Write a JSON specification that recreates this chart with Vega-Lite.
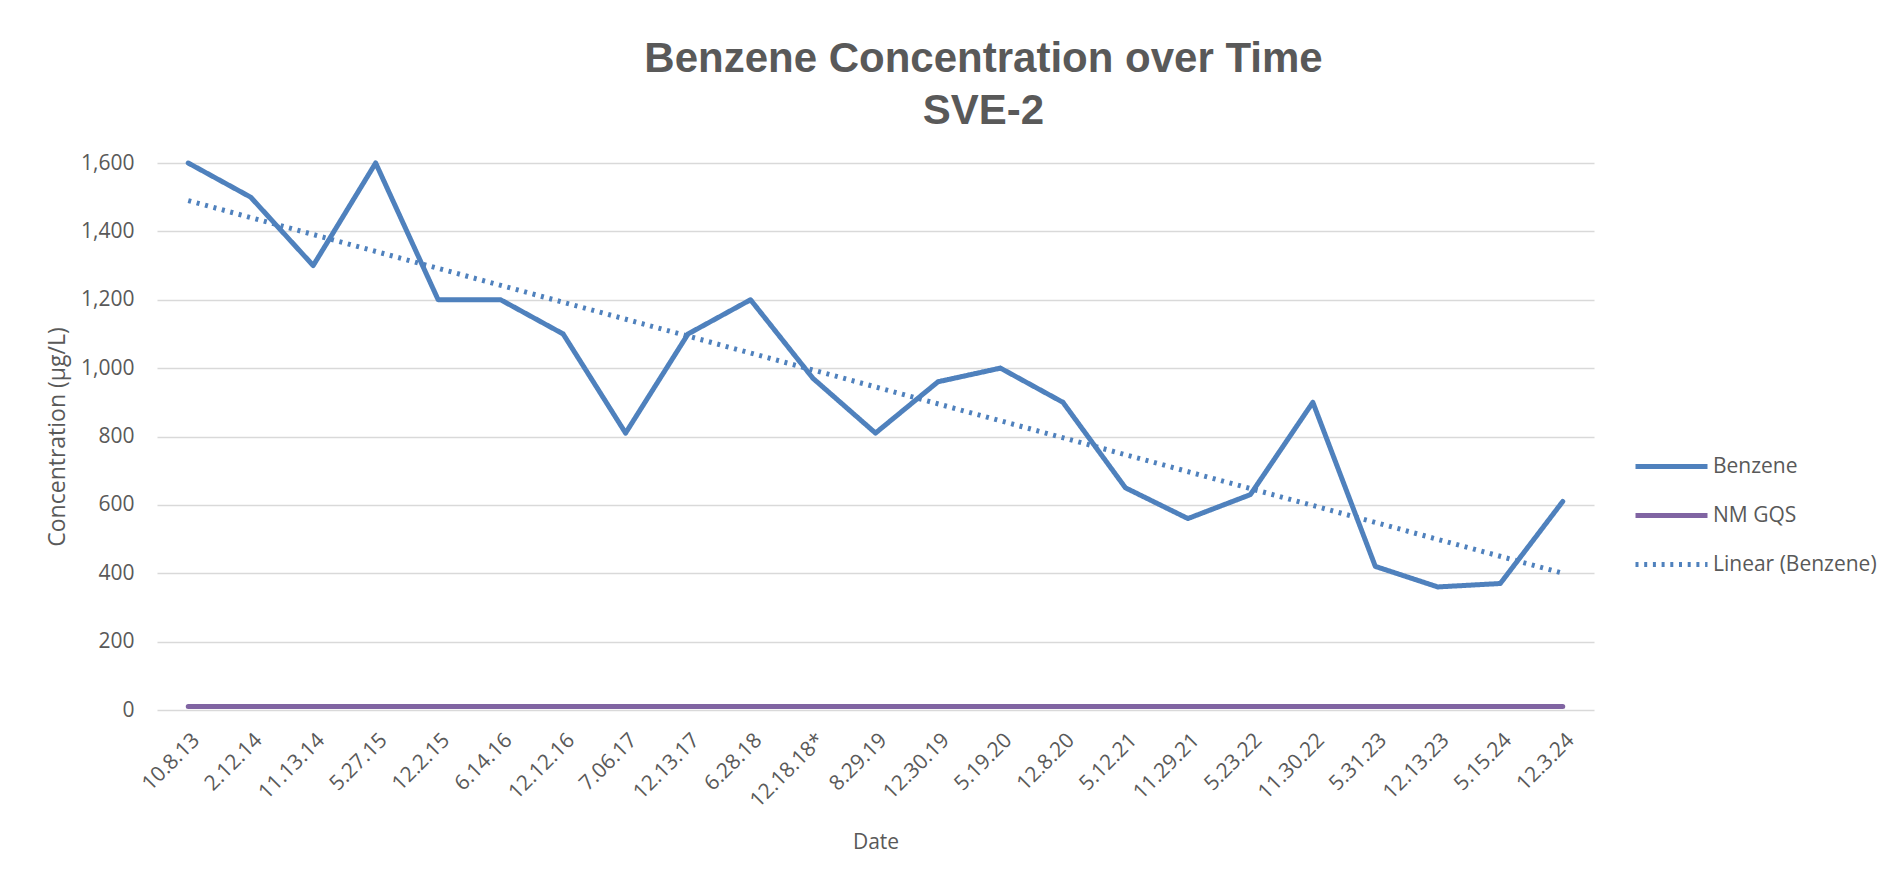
{
  "$schema": "https://vega.github.io/schema/vega-lite/v6.json",
  "width": 1437,
  "height": 547,
  "autosize": {"type": "none"},
  "padding": {"left": 157, "top": 163, "right": 291, "bottom": 176},
  "background": "white",
  "title": {
    "text": ["Benzene Concentration over Time", "SVE-2"],
    "font": "Liberation Sans",
    "fontSize": 42,
    "fontWeight": "bold",
    "color": "#595959",
    "anchor": "middle",
    "frame": "group",
    "dx": 108,
    "dy": 90,
    "lineHeight": 52,
    "baseline": "alphabetic",
    "offset": 76
  },
  "data": {
    "values": [
      {"date": "10.8.13", "series": "Benzene", "value": 1600},
      {"date": "2.12.14", "series": "Benzene", "value": 1500},
      {"date": "11.13.14", "series": "Benzene", "value": 1300},
      {"date": "5.27.15", "series": "Benzene", "value": 1600},
      {"date": "12.2.15", "series": "Benzene", "value": 1200},
      {"date": "6.14.16", "series": "Benzene", "value": 1200},
      {"date": "12.12.16", "series": "Benzene", "value": 1100},
      {"date": "7.06.17", "series": "Benzene", "value": 810},
      {"date": "12.13.17", "series": "Benzene", "value": 1100},
      {"date": "6.28.18", "series": "Benzene", "value": 1200},
      {"date": "12.18.18*", "series": "Benzene", "value": 970},
      {"date": "8.29.19", "series": "Benzene", "value": 810},
      {"date": "12.30.19", "series": "Benzene", "value": 960},
      {"date": "5.19.20", "series": "Benzene", "value": 1000},
      {"date": "12.8.20", "series": "Benzene", "value": 900},
      {"date": "5.12.21", "series": "Benzene", "value": 650},
      {"date": "11.29.21", "series": "Benzene", "value": 560},
      {"date": "5.23.22", "series": "Benzene", "value": 630},
      {"date": "11.30.22", "series": "Benzene", "value": 900},
      {"date": "5.31.23", "series": "Benzene", "value": 420},
      {"date": "12.13.23", "series": "Benzene", "value": 360},
      {"date": "5.15.24", "series": "Benzene", "value": 370},
      {"date": "12.3.24", "series": "Benzene", "value": 610},
      {"date": "10.8.13", "series": "NM GQS", "value": 10},
      {"date": "2.12.14", "series": "NM GQS", "value": 10},
      {"date": "11.13.14", "series": "NM GQS", "value": 10},
      {"date": "5.27.15", "series": "NM GQS", "value": 10},
      {"date": "12.2.15", "series": "NM GQS", "value": 10},
      {"date": "6.14.16", "series": "NM GQS", "value": 10},
      {"date": "12.12.16", "series": "NM GQS", "value": 10},
      {"date": "7.06.17", "series": "NM GQS", "value": 10},
      {"date": "12.13.17", "series": "NM GQS", "value": 10},
      {"date": "6.28.18", "series": "NM GQS", "value": 10},
      {"date": "12.18.18*", "series": "NM GQS", "value": 10},
      {"date": "8.29.19", "series": "NM GQS", "value": 10},
      {"date": "12.30.19", "series": "NM GQS", "value": 10},
      {"date": "5.19.20", "series": "NM GQS", "value": 10},
      {"date": "12.8.20", "series": "NM GQS", "value": 10},
      {"date": "5.12.21", "series": "NM GQS", "value": 10},
      {"date": "11.29.21", "series": "NM GQS", "value": 10},
      {"date": "5.23.22", "series": "NM GQS", "value": 10},
      {"date": "11.30.22", "series": "NM GQS", "value": 10},
      {"date": "5.31.23", "series": "NM GQS", "value": 10},
      {"date": "12.13.23", "series": "NM GQS", "value": 10},
      {"date": "5.15.24", "series": "NM GQS", "value": 10},
      {"date": "12.3.24", "series": "NM GQS", "value": 10},
      {"date": "10.8.13", "series": "Linear (Benzene)", "value": 1490},
      {"date": "12.3.24", "series": "Linear (Benzene)", "value": 400}
    ]
  },
  "encoding": {
    "x": {
      "field": "date",
      "type": "nominal",
      "sort": null,
      "scale": {"type": "point", "padding": 0.5},
      "axis": {
        "title": "Date",
        "labelAngle": -45,
        "labelAlign": "right",
        "labelBaseline": "top",
        "labelPadding": 19,
        "labelFont": "Open Sans",
        "labelFontSize": 21,
        "labelColor": "#595959",
        "labelLimit": 300,
        "ticks": false,
        "domain": false,
        "grid": false,
        "titleFont": "Open Sans",
        "titleFontSize": 21,
        "titleFontWeight": "normal",
        "titleColor": "#595959",
        "titleY": 132,
        "titleBaseline": "middle"
      }
    },
    "y": {
      "field": "value",
      "type": "quantitative",
      "scale": {"domain": [0, 1600], "nice": false},
      "axis": {
        "title": "Concentration (µg/L)",
        "values": [0, 200, 400, 600, 800, 1000, 1200, 1400, 1600],
        "format": ",.0f",
        "grid": true,
        "gridColor": "#d9d9d9",
        "gridWidth": 1.5,
        "ticks": false,
        "domain": false,
        "labelFont": "Open Sans",
        "labelFontSize": 21,
        "labelColor": "#595959",
        "labelPadding": 23,
        "titleFont": "Open Sans",
        "titleFontSize": 23,
        "titleFontWeight": "normal",
        "titleColor": "#595959",
        "titleX": -93,
        "titleY": 273.5,
        "titleAngle": -90,
        "titleAlign": "center",
        "titleBaseline": "alphabetic"
      }
    },
    "color": {
      "field": "series",
      "type": "nominal",
      "scale": {"domain": ["Benzene", "NM GQS", "Linear (Benzene)"], "range": ["#4F81BD", "#8064A2", "#4F81BD"]},
      "legend": {
        "title": null,
        "orient": "none",
        "legendX": 1476,
        "legendY": 265,
        "padding": 0,
        "symbolType": "stroke",
        "symbolSize": 5184,
        "labelFont": "Open Sans",
        "labelFontSize": 21,
        "labelColor": "#595959",
        "labelLimit": 300,
        "labelOffset": 3,
        "rowPadding": -8
      }
    },
    "strokeDash": {
      "field": "series",
      "type": "nominal",
      "scale": {"domain": ["Benzene", "NM GQS", "Linear (Benzene)"], "range": [[1, 0], [1, 0], [3, 5.7]]}
    },
    "strokeWidth": {
      "field": "series",
      "type": "nominal",
      "scale": {"domain": ["Benzene", "NM GQS", "Linear (Benzene)"], "range": [5, 5, 3]}
    }
  },
  "layer": [
    {
      "transform": [{"filter": "datum.series !== 'Linear (Benzene)'"}],
      "mark": {"type": "line", "strokeCap": "round", "strokeJoin": "round"}
    },
    {
      "transform": [{"filter": "datum.series === 'Linear (Benzene)'"}],
      "mark": {"type": "line", "strokeCap": "butt"}
    }
  ],
  "config": {"view": {"stroke": null}}
}
